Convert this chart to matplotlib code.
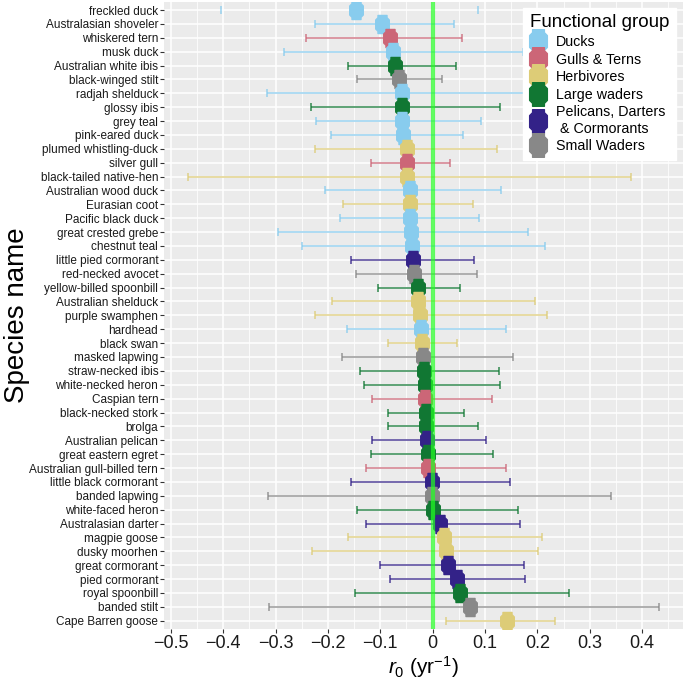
import matplotlib.pyplot as plt
import numpy as np
from matplotlib.lines import Line2D
from matplotlib.path import Path

plt.rcParams["font.family"] = ["Liberation Sans", "DejaVu Sans"]
plt.rcParams["mathtext.fontset"] = "custom"
plt.rcParams["mathtext.rm"] = "Liberation Sans"
plt.rcParams["mathtext.it"] = "Liberation Sans:italic"

species = ["freckled duck", "Australasian shoveler", "whiskered tern", "musk duck",
           "Australian white ibis", "black-winged stilt", "radjah shelduck", "glossy ibis",
           "grey teal", "pink-eared duck", "plumed whistling-duck", "silver gull",
           "black-tailed native-hen", "Australian wood duck", "Eurasian coot",
           "Pacific black duck", "great crested grebe", "chestnut teal",
           "little pied cormorant", "red-necked avocet", "yellow-billed spoonbill",
           "Australian shelduck", "purple swamphen", "hardhead", "black swan",
           "masked lapwing", "straw-necked ibis", "white-necked heron", "Caspian tern",
           "black-necked stork", "brolga", "Australian pelican", "great eastern egret",
           "Australian gull-billed tern", "little black cormorant", "banded lapwing",
           "white-faced heron", "Australasian darter", "magpie goose", "dusky moorhen",
           "great cormorant", "pied cormorant", "royal spoonbill", "banded stilt",
           "Cape Barren goose"]
group = ["Ducks", "Ducks", "Gulls", "Ducks", "Large", "Small", "Ducks", "Large",
         "Ducks", "Ducks", "Herb", "Gulls", "Herb", "Ducks", "Herb", "Ducks", "Ducks",
         "Ducks", "Pel", "Small", "Large", "Herb", "Herb", "Ducks", "Herb", "Small",
         "Large", "Large", "Gulls", "Large", "Large", "Pel", "Large", "Gulls", "Pel",
         "Small", "Large", "Pel", "Herb", "Herb", "Pel", "Pel", "Large", "Small", "Herb"]
r0 = [-0.146, -0.097, -0.081, -0.076, -0.072, -0.064, -0.059, -0.058, -0.058, -0.057,
      -0.049, -0.049, -0.048, -0.044, -0.043, -0.043, -0.042, -0.039, -0.037, -0.036,
      -0.027, -0.027, -0.025, -0.022, -0.020, -0.018, -0.017, -0.015, -0.015, -0.013,
      -0.012, -0.011, -0.009, -0.008, -0.002, -0.001, 0.000, 0.014, 0.021, 0.025,
      0.030, 0.047, 0.053, 0.072, 0.142]
lower = [-0.404, -0.225, -0.242, -0.283, -0.161, -0.144, -0.317, -0.233, -0.222, -0.195,
         -0.224, -0.118, -0.467, -0.206, -0.172, -0.177, -0.295, -0.249, -0.155, -0.147,
         -0.104, -0.193, -0.224, -0.164, -0.085, -0.173, -0.139, -0.132, -0.116, -0.086,
         -0.085, -0.116, -0.118, -0.127, -0.156, -0.315, -0.144, -0.128, -0.161, -0.230,
         -0.100, -0.081, -0.148, -0.313, 0.026]
upper = [0.086, 0.041, 0.057, 0.172, 0.044, 0.017, 0.182, 0.128, 0.092, 0.058,
         0.122, 0.033, 0.378, 0.131, 0.078, 0.088, 0.183, 0.214, 0.079, 0.085,
         0.053, 0.196, 0.219, 0.140, 0.046, 0.154, 0.127, 0.128, 0.114, 0.060,
         0.086, 0.102, 0.116, 0.141, 0.148, 0.341, 0.163, 0.166, 0.208, 0.201,
         0.175, 0.176, 0.261, 0.432, 0.234]

group_labels = {"Ducks": "Ducks", "Gulls": "Gulls & Terns", "Herb": "Herbivores",
                "Large": "Large waders", "Pel": "Pelicans, Darters\n & Cormorants",
                "Small": "Small Waders"}
colors = {"Ducks": "#88CCEE", "Gulls": "#CC6677", "Herb": "#DDCC77",
          "Large": "#117733", "Pel": "#332288", "Small": "#888888"}

# chunky notched octagon, a bit taller than wide
blob = Path([(-0.3, 0.6), (0.3, 0.6), (0.3, 0.45), (0.45, 0.3), (0.45, -0.3),
             (0.3, -0.45), (0.3, -0.6), (-0.3, -0.6), (-0.3, -0.45), (-0.45, -0.3),
             (-0.45, 0.3), (-0.3, 0.45), (-0.3, 0.6)], closed=True)

fig = plt.figure(figsize=(6.85, 6.81), dpi=100)
ax = fig.add_axes([0.2394, 0.0764, 0.7576, 0.921])
ax.set_facecolor("#EBEBEB")

n = len(species)
y = np.arange(n)[::-1]

for i in range(n):
    c = colors[group[i]]
    # top row only shows its caps in the reference
    lw = 0 if i == 0 else 1.1
    ax.errorbar(r0[i], y[i], xerr=[[r0[i] - lower[i]], [upper[i] - r0[i]]],
                fmt="none", ecolor=c, elinewidth=lw, capsize=3.2, capthick=1.1,
                alpha=0.85, zorder=2)
    ax.plot(r0[i], y[i], marker=blob, markersize=13, color=c, markeredgecolor=c,
            markeredgewidth=1, zorder=3, linestyle="none")

ax.axvline(0, color="#22FF22", alpha=0.7, linewidth=3, zorder=4)

ax.set_xlim(-0.513, 0.478)
ax.set_ylim(-0.6, n - 0.4)
ax.set_yticks(y)
ax.set_yticklabels(species, fontsize=8.5, color="#1A1A1A")
ax.set_xticks(np.arange(-0.5, 0.41, 0.1))
ax.set_xticklabels(["\u22120.5", "\u22120.4", "\u22120.3", "\u22120.2", "\u22120.1",
                    "0", "0.1", "0.2", "0.3", "0.4"], fontsize=13, color="#1A1A1A")
ax.set_xticks(np.arange(-0.45, 0.46, 0.1), minor=True)
ax.grid(True, which="major", color="white", linewidth=1.1, zorder=0)
ax.grid(True, which="minor", axis="x", color="white", linewidth=0.55, zorder=0)
ax.set_axisbelow(True)
ax.tick_params(axis="y", which="major", length=2.7, width=0.8, color="#333333", pad=1.5)
ax.tick_params(axis="x", which="major", length=2.7, width=0.8, color="#333333", pad=2)
ax.tick_params(axis="x", which="minor", length=0)
for s in ax.spines.values():
    s.set_visible(False)

ax.set_ylabel("Species name", fontsize=20)
ax.yaxis.set_label_coords(-0.258, 0.5)
ax.set_xlabel(r"$r_0$ (yr$^{-1}$)", fontsize=15, labelpad=1)

handles = [Line2D([], [], marker=blob, markersize=17, color=colors[k], markeredgecolor=colors[k],
                  markeredgewidth=1, linestyle="none") for k in group_labels]
leg = ax.legend(handles, list(group_labels.values()), title="Functional group",
                loc="upper right", bbox_to_anchor=(0.986, 0.99), borderaxespad=0,
                fontsize=10.3, title_fontsize=13.5, frameon=True, fancybox=False,
                framealpha=1, edgecolor="white", handletextpad=0.6, labelspacing=0.25,
                borderpad=0.45, handlelength=1.2)
leg._legend_box.align = "left"

fig.savefig("out.png", dpi=100)
